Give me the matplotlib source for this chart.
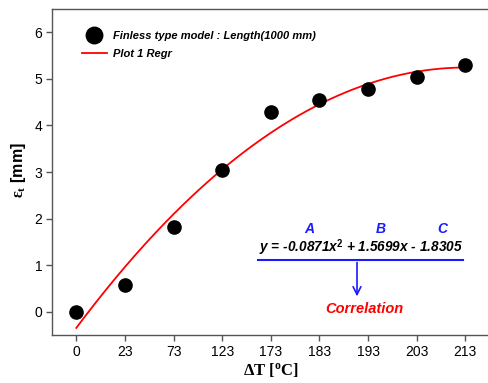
import numpy as np
import matplotlib
matplotlib.use("Agg")
import matplotlib.pyplot as plt

plt.rcParams['font.family'] = ['Liberation Sans', 'DejaVu Sans']
plt.rcParams['mathtext.fontset'] = 'custom'
plt.rcParams['mathtext.rm'] = 'Liberation Serif'
plt.rcParams['mathtext.bf'] = 'Liberation Serif:bold'
plt.rcParams['mathtext.it'] = 'Liberation Serif:italic'
plt.rcParams['mathtext.sf'] = 'Liberation Sans:bold'

# Temperature difference categories (plotted at ordinal positions 1..9)
dt_labels = ["0", "23", "73", "123", "173", "183", "193", "203", "213"]
positions = np.arange(1, len(dt_labels) + 1)
# Measured thermal elongation (mm)
elong = [0.0, 0.57, 1.81, 3.05, 4.29, 4.55, 4.79, 5.04, 5.29]
# Quadratic regression coefficients y = A x^2 + B x + C
coef_a, coef_b, coef_c = -0.0871, 1.5699, -1.8305

fig = plt.figure(figsize=(4.88, 3.83), dpi=100)
ax = fig.add_axes([52 / 488, 48 / 383, 437.6 / 488, 326 / 383])

xf = np.linspace(positions[0], positions[-1], 200)
yf = coef_a * xf ** 2 + coef_b * xf + coef_c

ax.plot(positions, elong, 'o', color='black', markersize=9.5,
        label='Finless type model : Length(1000 mm)', zorder=3)
ax.plot(xf, yf, color='red', lw=1.3, label='Plot 1 Regr', zorder=2)

ax.set_xlim(0.5, 9.5)
ax.set_ylim(-0.5, 6.5)
ax.set_xticks(positions)
ax.set_xticklabels(dt_labels)
ax.set_yticks(range(0, 7))

for s in ['top', 'bottom', 'left', 'right']:
    ax.spines[s].set_color('#555555')
    ax.spines[s].set_linewidth(1.0)
ax.tick_params(direction='out', length=4, width=1, color='#555555',
               labelsize=10, pad=3)

fig.text(271 / 488, 1 - 370 / 383, r'$\mathbf{\Delta T}$ [$\mathbf{^{o}}$C]',
         fontsize=12, fontweight='bold', family='Liberation Serif',
         ha='center', va='center')
fig.text(18 / 488, 1 - 170 / 383, r'$\mathbf{\varepsilon_t}$ [mm]',
         fontsize=11.5, fontweight='bold', family='Liberation Sans',
         rotation=90, ha='center', va='center')

leg = ax.legend(loc='upper left', bbox_to_anchor=(0.045, 0.964), frameon=False,
                prop={'weight': 'bold', 'style': 'italic', 'size': 8},
                handlelength=2.3, handletextpad=0.55, labelspacing=0.75,
                numpoints=1, markerscale=1.25)

# Regression equation annotation
eq_kw = dict(fontweight='bold', fontstyle='italic', ha='center', va='center')
blue = '#1a1aff'
ax.text(6.845, 1.374,
        r'y = -0.0871x$^{\mathsf{2}}$ + 1.5699x - 1.8305',
        fontsize=9.8, color='black', **eq_kw)
ax.text(5.786, 1.78, 'A', fontsize=10, color=blue, **eq_kw)
ax.text(7.267, 1.78, 'B', fontsize=10, color=blue, **eq_kw)
ax.text(8.52, 1.78, 'C', fontsize=10, color=blue, **eq_kw)
ax.plot([4.737, 8.953], [1.117, 1.117], color=blue, lw=1.5)
ax.annotate('', xy=(6.773, 0.27), xytext=(6.773, 1.117),
            arrowprops=dict(arrowstyle='->', color=blue, lw=1.2,
                            mutation_scale=14))
ax.text(6.917, 0.064, 'Correlation', fontsize=10.5, color='red', **eq_kw)

fig.savefig('out.png', dpi=100)
